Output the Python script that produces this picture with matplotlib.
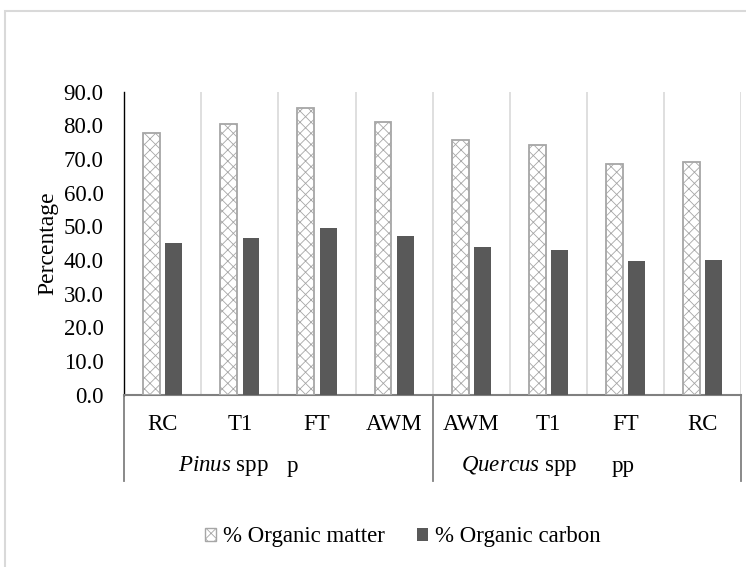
import matplotlib
matplotlib.use('Agg')
import matplotlib.pyplot as plt
from matplotlib.patches import Rectangle, Patch
import numpy as np

categories = ["RC", "T1", "FT", "AWM", "AWM", "T1", "FT", "RC"]
organic_matter = [77.6, 80.4, 85.2, 81.0, 75.5, 74.2, 68.4, 69.1]
organic_carbon = [45.0, 46.6, 49.4, 47.0, 43.8, 42.9, 39.6, 40.0]
yticks = [0, 10, 20, 30, 40, 50, 60, 70, 80, 90]

plt.rcParams['font.family'] = 'Liberation Serif'
plt.rcParams['mathtext.fontset'] = 'custom'
plt.rcParams['mathtext.rm'] = 'Liberation Serif'
plt.rcParams['mathtext.it'] = 'Liberation Serif:italic'
plt.rcParams['hatch.linewidth'] = 0.6

fs = 16.5
fig = plt.figure(figsize=(7.46, 5.67), dpi=100)
ax = fig.add_axes([0.1666, 0.3042, 0.8267, 0.5344])

# outer chart border (only top and left visible)
fig.patches.append(Rectangle((5 / 746, -0.1), 1.2, 1.1 - 11 / 567, transform=fig.transFigure,
                             fill=False, edgecolor='#d9d9d9', linewidth=1.5, clip_on=False))

x = np.arange(len(categories))
w = 0.22
off = 0.144
ax.bar(x - off, organic_matter, width=w, color='white', edgecolor='#a6a6a6',
       hatch='xxx', linewidth=1.3, label='% Organic matter', zorder=3)
ax.bar(x + off, organic_carbon, width=w, color='#595959', linewidth=0,
       label='% Organic carbon', zorder=3)

for k in range(1, len(categories) + 1):
    ax.axvline(k - 0.5, color='#d9d9d9', linewidth=1.2, zorder=1)

ax.set_xlim(-0.5, len(categories) - 0.5)
ax.set_ylim(0, 90)
ax.set_yticks(yticks)
ax.set_yticklabels([f"{v:.1f}" for v in yticks], fontsize=fs)
ax.tick_params(axis='y', length=0, pad=15)
ax.set_xticks([])
for s in ['top', 'right']:
    ax.spines[s].set_visible(False)
ax.spines['left'].set_color('black')
ax.spines['left'].set_linewidth(1.0)
ax.spines['bottom'].set_color('#808080')
ax.spines['bottom'].set_linewidth(1.5)
ax.set_ylabel("Percentage", fontsize=fs + 0.5, labelpad=4)

trans = ax.get_xaxis_transform()
for xv in [-0.5, 3.5, 7.5]:
    ax.plot([xv, xv], [0, -0.285], transform=trans, color='#808080', linewidth=1.3, clip_on=False)
for i, c in enumerate(categories):
    ax.text(i, -0.10, c, transform=trans, ha='center', va='center', fontsize=fs)

ax.text(0.195, -0.236, r"$\it{Pinus}$ spp", transform=trans, ha='left', va='center', fontsize=fs)
ax.text(1.61, -0.236, "p", transform=trans, ha='left', va='center', fontsize=fs)
ax.text(3.87, -0.236, r"$\it{Quercus}$ spp", transform=trans, ha='left', va='center', fontsize=fs)
ax.text(5.82, -0.236, "pp", transform=trans, ha='left', va='center', fontsize=fs)

handles = [Patch(facecolor='white', edgecolor='#a6a6a6', hatch='xxx', label='% Organic matter'),
           Patch(facecolor='#595959', label='% Organic carbon')]
fig.legend(handles=handles, loc='center', bbox_to_anchor=(0.54, 0.053), ncol=2, frameon=False,
           fontsize=fs, handlelength=0.5, handleheight=0.5, handletextpad=0.3, columnspacing=1.4)

plt.savefig("out.png", dpi=100)
